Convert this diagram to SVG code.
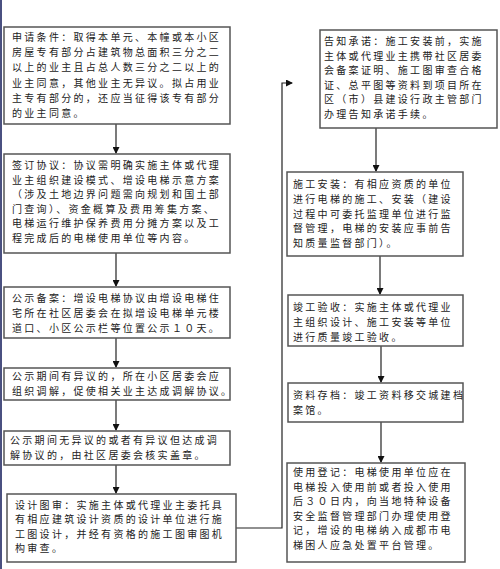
<svg xmlns="http://www.w3.org/2000/svg" width="500" height="569" viewBox="0 0 500 569">
<defs>
<marker id="ah" markerWidth="7" markerHeight="7" refX="6" refY="3.5" orient="auto" markerUnits="userSpaceOnUse">
<path d="M0,0 L7,3.5 L0,7 Z" fill="#111"/>
</marker>
<style>
.box{fill:#fff;stroke:#555;stroke-width:1.5}
.t{font-family:"Noto Sans CJK SC","Noto Sans CJK JP",sans-serif;font-size:10px;letter-spacing:2.3px;fill:#222}
.c{fill:none;stroke:#222;stroke-width:1.2}
</style>
</defs>
<rect x="0" y="0" width="500" height="569" fill="#fff"/>
<rect x="0" y="0" width="2" height="569" fill="#4a5080"/>
<g id="connectors">
<path class="c" d="M116,124 V153" marker-end="url(#ah)"/>
<path class="c" d="M116,253 V286" marker-end="url(#ah)"/>
<path class="c" d="M116,338 V367" marker-end="url(#ah)"/>
<path class="c" d="M116,400 V430" marker-end="url(#ah)"/>
<path class="c" d="M116,465 V493" marker-end="url(#ah)"/>
<path class="c" d="M236,528 H282 V83 H292" marker-end="url(#ah)"/>
<path class="c" d="M376,128 V171" marker-end="url(#ah)"/>
<path class="c" d="M380,256 V294" marker-end="url(#ah)"/>
<path class="c" d="M381,346 V382" marker-end="url(#ah)"/>
<path class="c" d="M381,422 V462" marker-end="url(#ah)"/>
</g>
<g id="n1"><rect class="box" x="4" y="27" width="226" height="97"/>
<text class="t" x="12" y="41">申请条件：取得本单元、本幢或本小区</text>
<text class="t" x="12" y="56">房屋专有部分占建筑物总面积三分之二</text>
<text class="t" x="12" y="71">以上的业主且占总人数三分之二以上的</text>
<text class="t" x="12" y="87">业主同意，其他业主无异议。拟占用业</text>
<text class="t" x="12" y="102">主专有部分的，还应当征得该专有部分</text>
<text class="t" x="12" y="117">的业主同意。</text></g>
<g id="n2"><rect class="box" x="4" y="154" width="226" height="99"/>
<text class="t" x="12" y="169">签订协议：协议需明确实施主体或代理</text>
<text class="t" x="12" y="183.5">业主组织建设模式、增设电梯示意方案</text>
<text class="t" x="12" y="198">（涉及土地边界问题需向规划和国土部</text>
<text class="t" x="12" y="212.5">门查询）、资金概算及费用筹集方案、</text>
<text class="t" x="12" y="227">电梯运行维护保养费用分摊方案以及工</text>
<text class="t" x="12" y="241.5">程完成后的电梯使用单位等内容。</text></g>
<g id="n3"><rect class="box" x="4" y="287" width="226" height="51"/>
<text class="t" x="12" y="302">公示备案：增设电梯协议由增设电梯住</text>
<text class="t" x="12" y="317">宅所在社区居委会在拟增设电梯单元楼</text>
<text class="t" x="12" y="332">道口、小区公示栏等位置公示１０天。</text></g>
<g id="n4"><rect class="box" x="4" y="368" width="226" height="32"/>
<text class="t" x="12" y="380">公示期间有异议的，所在小区居委会应</text>
<text class="t" x="12" y="395">组织调解，促使相关业主达成调解协议。</text></g>
<g id="n5"><rect class="box" x="4" y="431" width="226" height="34"/>
<text class="t" x="10" y="444">公示期间无异议的或者有异议但达成调</text>
<text class="t" x="10" y="459">解协议的，由社区居委会核实盖章。</text></g>
<g id="n6"><rect class="box" x="7" y="494" width="229" height="68"/>
<text class="t" x="15" y="508.5">设计图审：实施主体或代理业主委托具</text>
<text class="t" x="15" y="523">有相应建筑设计资质的设计单位进行施</text>
<text class="t" x="15" y="537.5">工图设计，并经有资格的施工图审图机</text>
<text class="t" x="15" y="552">构审查。</text></g>
<g id="n7"><rect class="box" x="320" y="30" width="177" height="98"/>
<text class="t" x="324" y="45">告知承诺：施工安装前，实施</text>
<text class="t" x="324" y="59.5">主体或代理业主携带社区居委</text>
<text class="t" x="324" y="74">会备案证明、施工图审查合格</text>
<text class="t" x="324" y="88.5">证、总平图等资料到项目所在</text>
<text class="t" x="324" y="103">区（市）县建设行政主管部门</text>
<text class="t" x="324" y="117.5">办理告知承诺手续。</text></g>
<g id="n8"><rect class="box" x="287" y="172" width="176" height="84"/>
<text class="t" x="293" y="188">施工安装：有相应资质的单位</text>
<text class="t" x="293" y="202.75">进行电梯的施工、安装（建设</text>
<text class="t" x="293" y="217.5">过程中可委托监理单位进行监</text>
<text class="t" x="293" y="232.25">督管理，电梯的安装应事前告</text>
<text class="t" x="293" y="247">知质量监督部门）。</text></g>
<g id="n9"><rect class="box" x="288" y="295" width="175" height="51"/>
<text class="t" x="293" y="311">竣工验收：实施主体或代理业</text>
<text class="t" x="293" y="326">主组织设计、施工安装等单位</text>
<text class="t" x="293" y="341">进行质量竣工验收。</text></g>
<g id="n10"><rect class="box" x="288" y="383" width="175" height="39"/>
<text class="t" x="293" y="399" letter-spacing="1.8">资料存档：竣工资料移交城建档</text>
<text class="t" x="293" y="414">案馆。</text></g>
<g id="n11"><rect class="box" x="287" y="463" width="178" height="99"/>
<text class="t" x="293" y="476">使用登记：电梯使用单位应在</text>
<text class="t" x="293" y="490.5">电梯投入使用前或者投入使用</text>
<text class="t" x="293" y="505">后３０日内，向当地特种设备</text>
<text class="t" x="293" y="519.5">安全监督管理部门办理使用登</text>
<text class="t" x="293" y="534">记，增设的电梯纳入成都市电</text>
<text class="t" x="293" y="548.5">梯困人应急处置平台管理。</text></g>
</svg>
